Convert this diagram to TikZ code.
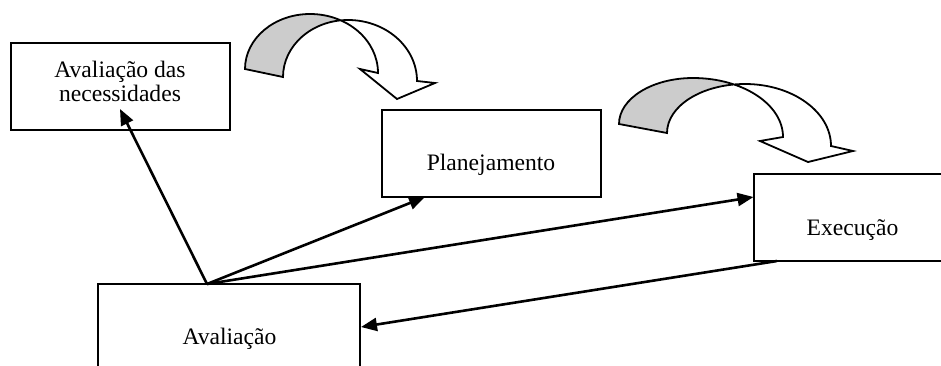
\documentclass[tikz,border=0pt]{standalone}
\usepackage{fontspec}
\setmainfont{Liberation Serif}
\usetikzlibrary{arrows.meta,intersections}
\definecolor{bandgray}{HTML}{CCCCCC}
\begin{document}
\begin{tikzpicture}[x=0.5pt,y=-0.5pt,
  box/.style={draw,line width=1pt,minimum width=109.5pt,minimum height=43.5pt,inner sep=0pt},
  boxtext/.style={font=\fontsize{11.8}{12}\selectfont,inner sep=0pt,anchor=base},
  link/.style={line width=1.3pt,-{Triangle[length=8pt,width=6.5pt]}},
  band/.style={line width=0.9pt,line join=miter}
]
\useasboundingbox (0,0) rectangle (941,365);
\clip (0,0) rectangle (941,365);
\coordinate (bot) at (0,400);

% boxes
\node[box] (nec) at (120.5,86.5) {};
\node[box] (plan) at (491.5,153) {};
\node[box] (exe) at (863.5,217.5) {};
\node[box,minimum width=131pt] (ava) at (229,327.5) {};

% texts
\node[boxtext] (necA) at (120,77.5) {Avaliação das};
\node[boxtext] (necB) at (120,101) {necessidades};
\node[boxtext] (planT) at (491,170) {Planejamento};
\node[boxtext] (exeT) at (852.5,235) {Execução};
\node[boxtext] (avaT) at (229.5,344) {Avaliação};

% connectors
\coordinate (hub) at (207,284);
\coordinate (necIn) at (120,109);
\coordinate (planIn) at (425,197);
\coordinate (exeIn) at (753.5,197);
\coordinate (exeOut) at (777,261);
\coordinate (avaIn) at (361,327);
\draw[link] (hub) -- (necIn);
\draw[link] (hub) -- (planIn);
\draw[link] (hub) -- (exeIn);
\draw[link] (exeOut) -- (avaIn);

% curved arrow 1
\path[name path=a1] (245,69) .. controls (245,38.6) and (274.1,14) .. (310,14) .. controls (347.6,14) and (378,40.4) .. (378,73);
\path[name path=b1] (283,77) .. controls (283,45.5) and (312.1,20) .. (348,20) .. controls (386.1,20) and (417,47.3) .. (417,81);
\path[name intersections={of=a1 and b1,by=x1}];
\def\shapeone{(245,69) .. controls (245,38.6) and (274.1,14) .. (310,14) .. controls (347.6,14) and (378,40.4) .. (378,73) -- (360,69) -- (397,99) -- (435,83) -- (417,81) .. controls (417,47.3) and (386.1,20) .. (348,20) .. controls (312.1,20) and (283,45.5) .. (283,77) -- cycle}
\fill[white] \shapeone;
\begin{scope}
\clip (0,0) rectangle (x1 |- bot);
\fill[bandgray] \shapeone;
\end{scope}
\draw[band] \shapeone;

% curved arrow 2
\path[name path=a2] (619,124) .. controls (619,98.6) and (652.1,78) .. (693,78) .. controls (742.7,78) and (783,104.4) .. (783,137);
\path[name path=b2] (667,133) .. controls (667,105.9) and (701.9,84) .. (745,84) .. controls (792.5,84) and (831,111.8) .. (831,146);
\path[name intersections={of=a2 and b2,by=x2}];
\def\shapetwo{(619,124) .. controls (619,98.6) and (652.1,78) .. (693,78) .. controls (742.7,78) and (783,104.4) .. (783,137) -- (760,141) -- (808,162) -- (853,151) -- (831,146) .. controls (831,111.8) and (792.5,84) .. (745,84) .. controls (701.9,84) and (667,105.9) .. (667,133) -- cycle}
\fill[white] \shapetwo;
\begin{scope}
\clip (0,0) rectangle (x2 |- bot);
\fill[bandgray] \shapetwo;
\end{scope}
\draw[band] \shapetwo;
\end{tikzpicture}
\end{document}
